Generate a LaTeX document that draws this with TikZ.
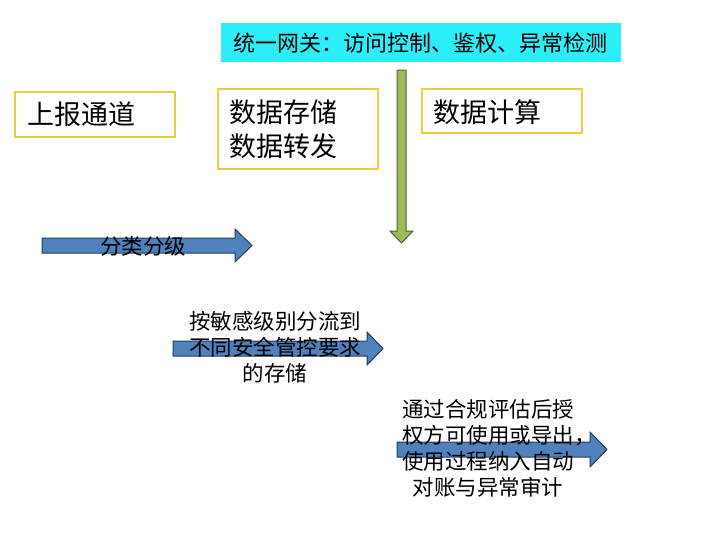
\documentclass[tikz,border=0pt]{standalone}
\usepackage{fontspec}
\setmainfont{Noto Sans CJK SC}
\definecolor{gwcyan}{RGB}{44,238,248}
\definecolor{boxyel}{RGB}{240,205,60}
\definecolor{blfill}{RGB}{79,129,189}
\definecolor{bldraw}{RGB}{40,60,90}
\definecolor{grfill}{RGB}{155,187,89}
\definecolor{grdraw}{RGB}{80,100,40}
\tikzset{
  ybox/.style={draw=boxyel, line width=1.2pt, fill=white},
  blarrow/.style={draw=bldraw, fill=blfill, line width=1pt, line join=miter},
  grarrow/.style={draw=grdraw, fill=grfill, line width=1pt, line join=miter},
  bigtxt/.style={font=\fontsize{27}{34}\selectfont, inner sep=0pt, anchor=west, align=left},
  arrtxt/.style={font=\fontsize{21.5}{26}\selectfont, inner sep=0pt, align=center},
}
\begin{document}
\begin{tikzpicture}[x=1pt,y=-1pt]
\useasboundingbox (0,0) rectangle (706,546);
% gateway
\fill[gwcyan] (221,23) rectangle (621,62);
\node[font=\fontsize{22}{26}\selectfont, inner sep=0pt, anchor=west] (gw) at (233,43) {统一网关：访问控制、鉴权、异常检测};
% boxes
\draw[ybox] (15,92) rectangle (175,137);
\node[bigtxt] (report) at (27,114) {上报通道};
\draw[ybox] (218,89) rectangle (378,169);
\node[bigtxt] (store) at (229,129) {数据存储\\数据转发};
\draw[ybox] (422,89) rectangle (582,133);
\node[bigtxt] (compute) at (433,112) {数据计算};
% green down arrow
\draw[grarrow] (397,70) -- (406,70) -- (406,231) -- (413,231) -- (401.5,243) -- (390,231) -- (397,231) -- cycle;
% blue arrows
\draw[blarrow] (42,238) -- (235,238) -- (235,229) -- (252,245.5) -- (235,262) -- (235,253) -- (42,253) -- cycle;
\node[arrtxt] (classify) at (143,246) {分类分级};
\draw[blarrow] (173,341) -- (367,341) -- (367,332) -- (383,348.5) -- (367,365) -- (367,356) -- (173,356) -- cycle;
\node[arrtxt] (split) at (275,347) {按敏感级别分流到\\不同安全管控要求\\的存储};
\draw[blarrow] (397,442) -- (590,442) -- (590,432) -- (607,449.5) -- (590,467) -- (590,457) -- (397,457) -- cycle;
\node[arrtxt] (audit) at (488,448) {通过合规评估后授\\权方可使用或导出\rlap{，}\\使用过程纳入自动\\对账与异常审计};
\end{tikzpicture}
\end{document}
